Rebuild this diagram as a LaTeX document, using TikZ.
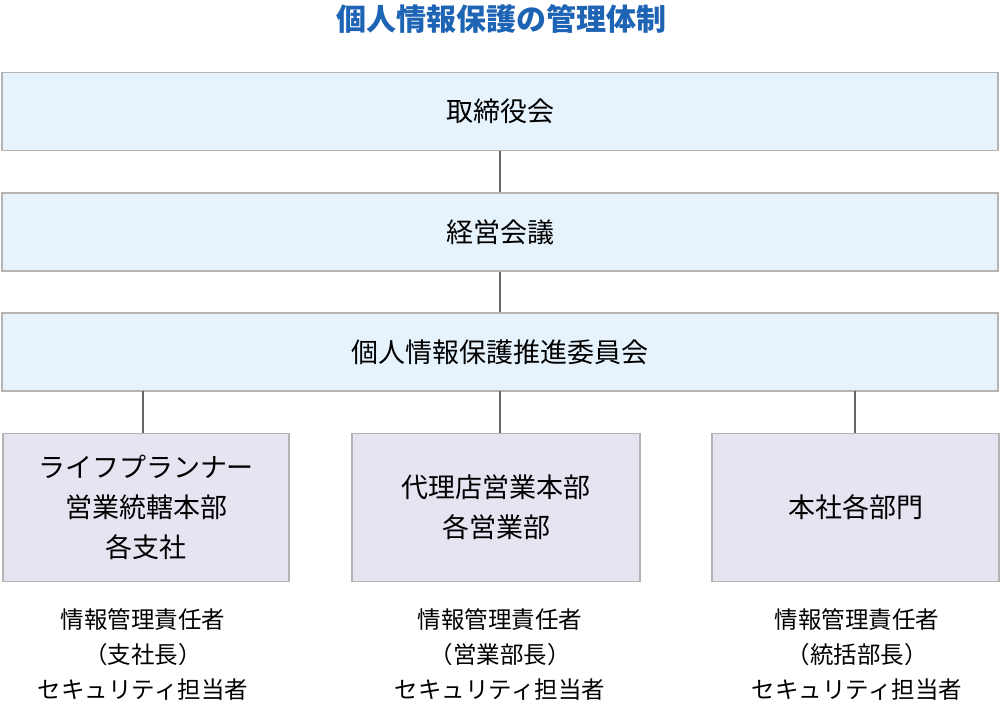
\documentclass[tikz,border=0pt]{standalone}
\usepackage{fontspec}
\setmainfont{Noto Sans CJK JP}
\definecolor{topfill}{HTML}{E6F3FC}
\definecolor{subfill}{HTML}{E6E4F0}
\definecolor{bordc}{HTML}{B4B4B4}
\definecolor{titlec}{HTML}{1E64B4}
\begin{document}
\begin{tikzpicture}[x=1pt,y=-1pt,
  topbox/.style={draw=bordc,line width=1.5pt,fill=topfill,minimum height=78pt,inner sep=0pt,font=\fontsize{27}{32}\selectfont},
  subbox/.style={draw=bordc,line width=1.5pt,fill=subfill,minimum height=148pt,minimum width=286pt,inner sep=0pt,align=center,font=\fontsize{27}{40}\selectfont},
  lbl/.style={align=center,font=\fontsize{23.5}{35}\selectfont},
  link/.style={draw=black!60,line width=2.5pt}]
\useasboundingbox (0,0) rectangle (1002,708);
\node[font=\bfseries\fontsize{30}{34}\selectfont,text=titlec] (t) at (501,19) {個人情報保護の管理体制};
\node[topbox,minimum width=996pt] (a) at (500,111.5) {取締役会};
\node[topbox,minimum width=996pt] (b) at (500,232) {経営会議};
\node[topbox,minimum width=996pt] (c) at (500,352) {個人情報保護推進委員会};
\node[subbox] (d1) at (146,507.5) {ライフプランナー\\営業統轄本部\\各支社};
\node[subbox,minimum width=288pt] (d2) at (496,507.5) {代理店営業本部\\各営業部};
\node[subbox,minimum width=287pt] (d3) at (855.5,507.5) {本社各部門};
\node[lbl] (l1) at (143,655) {情報管理責任者\\（支社長）\\セキュリティ担当者};
\node[lbl] (l2) at (500,655) {情報管理責任者\\（営業部長）\\セキュリティ担当者};
\node[lbl] (l3) at (857,655) {情報管理責任者\\（統括部長）\\セキュリティ担当者};
\draw[link] (a.south) -- (b.north);
\draw[link] (b.south) -- (c.north);
\draw[link] (143,391) -- (143,433);
\draw[link] (500,391) -- (500,433);
\draw[link] (855,391) -- (855,433);
\end{tikzpicture}
\end{document}
